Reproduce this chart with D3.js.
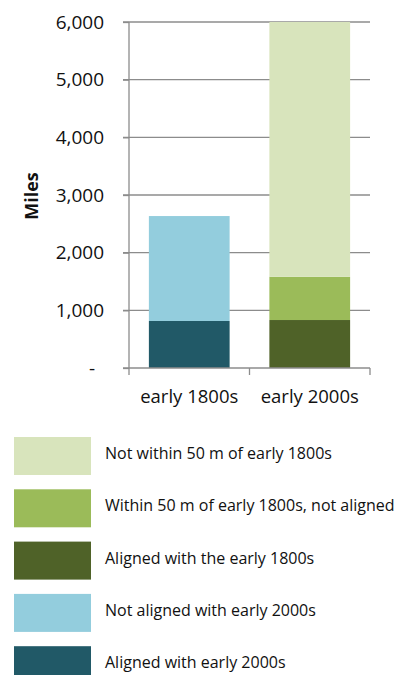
<!DOCTYPE html>
<html>
<head>
<meta charset="utf-8">
<script src="https://cdn.jsdelivr.net/npm/d3@7"></script>
<style>
  body { margin: 0; background: #fff; }
  text { font-family: "Open Sans", sans-serif; fill: #111; }
</style>
</head>
<body>
<script>
// Data
const periods = ["early 1800s", "early 2000s"];
const seriesNames = [
  "Aligned with early 2000s",
  "Not aligned with early 2000s",
  "Aligned with the early 1800s",
  "Within 50 m of early 1800s, not aligned",
  "Not within 50 m of early 1800s"
];
const alignedWith2000s    = [815, 0];
const notAlignedWith2000s = [1820, 0];
const alignedWith1800s    = [0, 832];
const within50mNotAligned = [0, 750];
const notWithin50m        = [0, 4418];
const yTicks = [0, 1000, 2000, 3000, 4000, 5000, 6000];
const colors = ["#215967", "#93cddd", "#4f6228", "#9bbb59", "#d8e4bc"];

const rows = periods.map((p, i) => ({
  period: p,
  [seriesNames[0]]: alignedWith2000s[i],
  [seriesNames[1]]: notAlignedWith2000s[i],
  [seriesNames[2]]: alignedWith1800s[i],
  [seriesNames[3]]: within50mNotAligned[i],
  [seriesNames[4]]: notWithin50m[i]
}));

const width = 408, height = 675;
const plot = {left: 129, right: 370, top: 22, bottom: 368};

const svg = d3.select("body").append("svg")
  .attr("width", width)
  .attr("height", height);

// Scales
const x = d3.scaleBand()
  .domain(periods)
  .range([plot.left, plot.right])
  .paddingInner(0.33)
  .paddingOuter(0.165);

const y = d3.scaleLinear()
  .domain([0, 6000])
  .range([plot.bottom, plot.top]);

// Gridlines
svg.append("g")
  .selectAll("line")
  .data(yTicks.slice(1))
  .enter().append("line")
  .attr("x1", plot.left - 6)
  .attr("x2", plot.right)
  .attr("y1", d => y(d))
  .attr("y2", d => y(d))
  .attr("stroke", "#8c8c8c")
  .attr("stroke-width", 1.3);

// Stacked bars
const stack = d3.stack().keys(seriesNames);
const layers = stack(rows);

svg.append("g")
  .selectAll("g")
  .data(layers)
  .enter().append("g")
  .attr("fill", (d, i) => colors[i])
  .selectAll("rect")
  .data(d => d.filter(v => v[1] - v[0] > 0))
  .enter().append("rect")
  .attr("x", d => x(d.data.period))
  .attr("width", x.bandwidth())
  .attr("y", d => y(d[1]))
  .attr("height", d => y(d[0]) - y(d[1]));

// Y axis
const yAxis = d3.axisLeft(y)
  .tickValues(yTicks)
  .tickSize(6)
  .tickFormat(d => d === 0 ? "-" : d3.format(",")(d));

const gy = svg.append("g")
  .attr("transform", "translate(" + plot.left + ",0)")
  .call(yAxis);
gy.select(".domain").attr("stroke", "#8c8c8c").attr("stroke-width", 1.3)
  .attr("d", "M0," + plot.top + "V" + plot.bottom);
gy.selectAll(".tick line").attr("stroke", "#8c8c8c").attr("stroke-width", 1.3);
gy.selectAll(".tick text")
  .attr("x", d => d === 0 ? -34 : -25)
  .attr("dy", "0.33em")
  .style("font-size", "19px")
  .style("font-family", "'Open Sans', sans-serif")
  .attr("fill", "#111");

// X axis
const gx = svg.append("g")
  .attr("transform", "translate(0," + plot.bottom + ")");
gx.append("line")
  .attr("x1", plot.left - 6)
  .attr("x2", plot.right)
  .attr("stroke", "#8c8c8c")
  .attr("stroke-width", 1.3);
gx.selectAll(".xtick")
  .data([plot.left, (plot.left + plot.right) / 2, plot.right])
  .enter().append("line")
  .attr("x1", d => d).attr("x2", d => d)
  .attr("y1", 0).attr("y2", 7)
  .attr("stroke", "#8c8c8c")
  .attr("stroke-width", 1.3);
gx.selectAll(".xlabel")
  .data(periods)
  .enter().append("text")
  .attr("x", d => x(d) + x.bandwidth() / 2)
  .attr("y", 35)
  .attr("text-anchor", "middle")
  .style("font-size", "18.5px")
  .text(d => d);

// Axis title
svg.append("text")
  .attr("transform", "translate(38," + 196 + ") rotate(270)")
  .attr("text-anchor", "middle")
  .style("font-size", "18px")
  .style("font-weight", "bold")
  .text("Miles");

// Legend (top to bottom in reverse stacking order)
const legendItems = seriesNames.map((n, i) => ({name: n, color: colors[i]})).reverse();
const legend = svg.append("g")
  .selectAll("g")
  .data(legendItems)
  .enter().append("g")
  .attr("transform", (d, i) => "translate(14," + (437 + i * 52.3) + ")");

legend.append("rect")
  .attr("width", 77)
  .attr("height", 38)
  .attr("fill", d => d.color);

legend.append("text")
  .attr("x", 91)
  .attr("y", 22)
  .style("font-size", "16px")
  .text(d => d.name);
</script>
</body>
</html>
